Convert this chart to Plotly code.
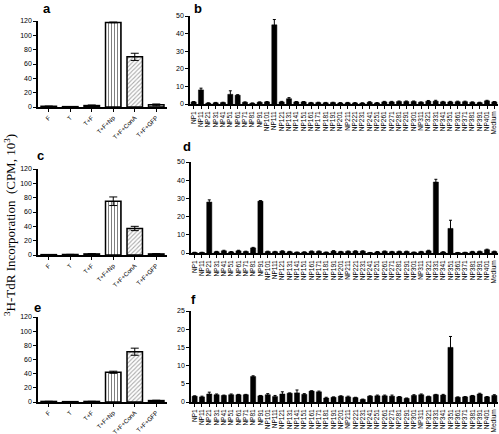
import plotly.graph_objects as go

W, H = 499, 434

left_cats = ["F", "T", "T+F", "T+F+Np", "T+F+ConA", "T+F+GFP"]
a_vals = [1.0, 0.5, 2.0, 118, 70, 3.0]
a_err = [0.3, 0.2, 0.8, 0.5, 5.0, 1.2]
c_vals = [0.5, 0.7, 1.5, 75, 37, 1.5]
c_err = [0.2, 0.2, 0.4, 6.0, 3.0, 0.4]
e_vals = [0.8, 0.5, 0.8, 42, 71, 2.0]
e_err = [0.2, 0.1, 0.2, 1.5, 5.0, 0.5]

np_cats = ["NP%d" % (1 + 10 * i) for i in range(41)] + ["Medium"]

b_vals = [1.2, 8.0, 0.5, 0.7, 0.8, 5.5, 5.0, 1.0, 0.4, 1.0, 1.2, 45, 1.2, 3.0, 1.2, 1.2,
          0.7, 0.8, 0.7, 0.8, 0.6, 0.7, 0.6, 0.5, 1.0, 0.6, 1.2, 1.2, 1.4, 1.4, 1.4, 1.0,
          1.6, 1.6, 1.2, 1.2, 1.3, 1.3, 1.0, 0.8, 1.8, 1.2]
b_err = [0.2, 1.0, 0.2, 0.2, 0.2, 2.0, 0.3, 0.2, 0.2, 0.2, 0.2, 3.0, 0.3, 0.6, 0.2, 0.2,
         0.2, 0.2, 0.2, 0.2, 0.2, 0.2, 0.2, 0.2, 0.3, 0.2, 0.3, 0.3, 0.3, 0.3, 0.3, 0.2,
         0.4, 0.5, 0.3, 0.3, 0.3, 0.3, 0.2, 0.2, 0.3, 0.2]

d_vals = [0.3, 0.3, 28, 0.7, 1.2, 0.6, 1.2, 0.8, 2.8, 28.5, 0.8, 0.7, 1.0, 0.7, 0.4, 0.5,
          0.9, 0.9, 0.4, 1.0, 0.7, 0.9, 1.0, 1.0, 0.2, 0.6, 0.9, 0.7, 0.8, 0.8, 0.4, 0.7,
          1.2, 39, 0.5, 13.5, 0.2, 0.3, 0.7, 0.8, 1.8, 0.8]
d_err = [0.1, 0.1, 1.2, 0.2, 0.3, 0.2, 0.3, 0.2, 0.3, 0.3, 0.2, 0.2, 0.2, 0.2, 0.1, 0.1,
         0.2, 0.2, 0.1, 0.3, 0.2, 0.2, 0.2, 0.2, 0.1, 0.2, 0.2, 0.2, 0.2, 0.2, 0.1, 0.2,
         0.3, 1.5, 0.2, 4.5, 0.1, 0.1, 0.2, 0.2, 0.3, 0.2]

f_vals = [1.6, 1.4, 2.2, 2.0, 1.8, 2.0, 2.0, 2.0, 7.0, 1.7, 2.0, 1.5, 2.2, 2.4, 2.5, 2.1,
          3.0, 2.8, 1.1, 1.3, 1.6, 1.4, 1.2, 0.7, 1.6, 1.7, 1.7, 1.6, 1.4, 1.0, 1.8, 2.0,
          1.5, 2.0, 1.9, 15, 1.3, 1.4, 1.7, 2.2, 1.4, 1.8]
f_err = [0.1, 0.2, 0.5, 0.2, 0.1, 0.2, 0.1, 0.1, 0.2, 0.1, 0.3, 0.3, 0.6, 0.1, 0.8, 0.2,
         0.1, 0.2, 0.2, 0.1, 0.1, 0.2, 0.1, 0.1, 0.1, 0.2, 0.2, 0.3, 0.1, 0.1, 0.2, 0.2,
         0.1, 0.1, 0.2, 3.0, 0.1, 0.1, 0.1, 0.2, 0.1, 0.2]

left_patterns = ["", "", "", "|", "/", "."]
left_fg = ["black", "black", "black", "black", "#555555", "#888888"]

def px_x(a, b):
    return [a / W, b / W]

def px_y(top, bot):
    return [1 - bot / H, 1 - top / H]

panels = [
    ("a", left_cats, a_vals, a_err, px_x(38, 167), px_y(21, 107), 120, 20, True),
    ("b", np_cats, b_vals, b_err, px_x(190, 498), px_y(16, 104), 50, 10, False),
    ("c", left_cats, c_vals, c_err, px_x(38, 167), px_y(169, 255), 120, 20, True),
    ("d", np_cats, d_vals, d_err, px_x(191, 498), px_y(162, 253), 50, 10, False),
    ("e", left_cats, e_vals, e_err, px_x(38, 167), px_y(317, 402), 120, 20, True),
    ("f", np_cats, f_vals, f_err, px_x(191, 498), px_y(311, 402), 25, 5, False),
]

fig = go.Figure()
layout = dict(
    width=W, height=H, margin=dict(l=0, r=0, t=0, b=0),
    paper_bgcolor="white", plot_bgcolor="white", showlegend=False,
)
annotations = []
label_pos = {"a": (47, 8), "b": (198, 8), "c": (40, 155), "d": (187, 147),
             "e": (37, 307), "f": (193, 299)}

for i, (name, cats, vals, err, xd, yd, ymax, dt, left) in enumerate(panels):
    sfx = "" if i == 0 else str(i + 1)
    if left:
        marker = dict(color="white", line=dict(color="black", width=1.5),
                      pattern=dict(shape=left_patterns, fgcolor=left_fg, bgcolor="white",
                                   size=3, solidity=0.35))
        ew = 4
    else:
        marker = dict(color="black", line=dict(color="black", width=0.5))
        ew = 1.5
    fig.add_trace(go.Bar(
        x=cats, y=vals, xaxis="x" + sfx, yaxis="y" + sfx, marker=marker,
        width=0.72 if left else 0.7,
        error_y=dict(type="data", array=err, visible=True, color="black",
                     thickness=1, width=ew),
    ))
    layout["xaxis" + sfx] = dict(
        domain=xd, anchor="y" + sfx, showline=True, linecolor="black", linewidth=1.5,
        ticks="outside", ticklen=3, tickwidth=1, tickcolor="black",
        tickmode="array", tickvals=cats, ticktext=cats,
        tickangle=-45 if left else -90,
        tickfont=dict(family="Arial", size=6.2 if left else 6.5, color="black"),
        showgrid=False, zeroline=False, range=[-0.5, len(cats) - 0.5],
        automargin=False,
    )
    layout["yaxis" + sfx] = dict(
        domain=yd, anchor="x" + sfx, showline=True, linecolor="black", linewidth=1.5,
        ticks="outside", ticklen=3, tickwidth=1, tickcolor="black",
        range=[0, ymax], dtick=dt, tick0=0,
        tickfont=dict(family="Arial", size=7, color="black"),
        showgrid=False, zeroline=False, automargin=False,
    )
    lx, ly = label_pos[name]
    annotations.append(dict(text="<b>%s</b>" % name, x=lx / W, y=1 - ly / H,
                            xref="paper", yref="paper", showarrow=False,
                            font=dict(family="Arial", size=13, color="black"),
                            xanchor="center", yanchor="middle"))

annotations.append(dict(
    text="<sup>3</sup>H-TdR Incorporation  (CPM, 10<sup>3</sup>)",
    x=10 / W, y=1 - 225 / H, xref="paper", yref="paper", showarrow=False,
    textangle=-90, font=dict(family="Liberation Serif", size=13, color="black"),
    xanchor="center", yanchor="middle"))

layout["annotations"] = annotations
fig.update_layout(**layout)
fig.write_html("out.html", config={"displayModeBar": False},
               post_script="document.body.style.margin='0';document.body.style.overflow='hidden';")
